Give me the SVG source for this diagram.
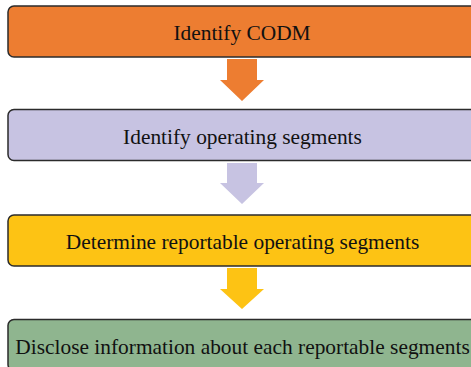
<svg xmlns="http://www.w3.org/2000/svg" width="471" height="367" viewBox="0 0 471 367">
<style>
.box{stroke:#2b2b2b;stroke-width:1.5}
.t{font-family:"Liberation Serif","DejaVu Serif",serif;font-size:21.4px;fill:#111;text-anchor:middle}
</style>
<rect width="471" height="367" fill="#fff"/>
<g id="connectors">
<polygon points="227,59 257,59 257,80 264,80 242,101 220,80 227,80" fill="#ED7D31"/>
<polygon points="227,163 257,163 257,183 264,183 242,204 220,183 227,183" fill="#C7C3E2"/>
<polygon points="227,268 257,268 257,289 264,289 242,309 220,289 227,289" fill="#FDC314"/>
</g>
<g id="n1"><rect class="box" x="8" y="6" width="469" height="51" rx="6" fill="#ED7D31"/><text class="t" x="242" y="40">Identify CODM</text></g>
<g id="n2"><rect class="box" x="8" y="109.5" width="469" height="51" rx="6" fill="#C7C3E2"/><text class="t" x="242.5" y="143.5">Identify operating segments</text></g>
<g id="n3"><rect class="box" x="8" y="215" width="469" height="51" rx="6" fill="#FDC314"/><text class="t" x="242.5" y="248.5">Determine reportable operating segments</text></g>
<g id="n4"><rect class="box" x="8" y="319.5" width="469" height="51" rx="6" fill="#8FB58F"/><text class="t" x="242.5" y="353.5">Disclose information about each reportable segments</text></g>
</svg>
